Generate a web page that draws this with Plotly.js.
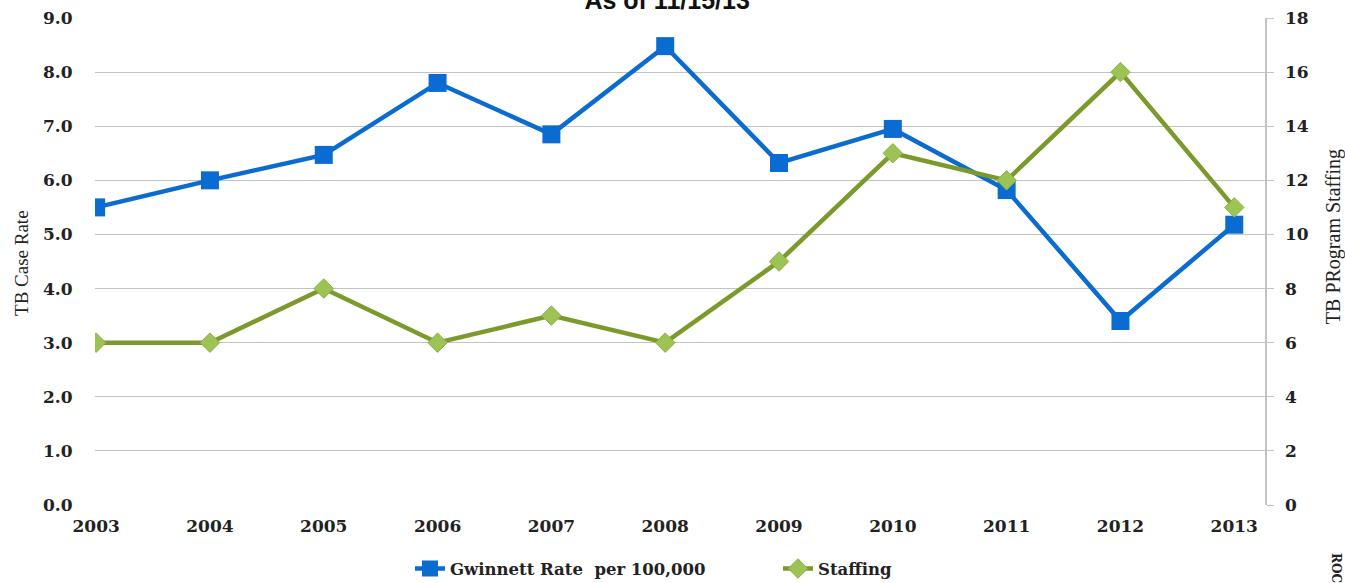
<!DOCTYPE html>
<html>
<head>
<meta charset="utf-8">
<script src="https://cdn.plot.ly/plotly-3.0.1.min.js"></script>
<style>html,body{margin:0;padding:0;background:#fff;}#chart{width:1345px;height:583px;}</style>
</head>
<body>
<div id="chart"></div>
<script>
var years = [2003, 2004, 2005, 2006, 2007, 2008, 2009, 2010, 2011, 2012, 2013];
var gwinnettRate = [5.5, 6.0, 6.47, 7.8, 6.85, 8.48, 6.32, 6.95, 5.82, 3.4, 5.18];
var staffing = [6, 6, 8, 6, 7, 6, 9, 13, 12, 16, 11];
var leftTicks = [0, 1, 2, 3, 4, 5, 6, 7, 8, 9];
var rightTicks = [0, 2, 4, 6, 8, 10, 12, 14, 16, 18];

var tickFont = {family: 'DejaVu Serif', size: 17, color: '#222', weight: 'bold'};

var traces = [
  {
    x: years, y: gwinnettRate, name: 'Gwinnett Rate  per 100,000', type: 'scatter', mode: 'lines+markers',
    line: {color: '#0a6bd0', width: 4.5},
    marker: {symbol: 'square', size: 18, color: '#0a6bd0'},
    yaxis: 'y'
  },
  {
    x: years, y: staffing, name: 'Staffing', type: 'scatter', mode: 'lines+markers',
    line: {color: '#7c9a2c', width: 4.5},
    marker: {symbol: 'diamond', size: 15, color: '#9cc455', line: {color: '#8db145', width: 1}},
    yaxis: 'y2'
  }
];

var layout = {
  width: 1345, height: 583,
  margin: {l: 95, r: 80, t: 18, b: 78, autoexpand: false},
  paper_bgcolor: '#fff', plot_bgcolor: '#fff',
  showlegend: true,
  title: {text: 'As of 11/15/13', x: 0.496, xref: 'container', y: 1.0, yref: 'container', yanchor: 'middle',
          font: {family: 'Liberation Sans', size: 25, color: '#111', weight: 'bold'}},
  xaxis: {
    range: [2002.99, 2013.27], tickmode: 'array', tickvals: years, ticktext: years.map(String),
    showgrid: false, zeroline: false, showline: false,
    ticks: 'outside', ticklen: 6, tickcolor: 'rgba(0,0,0,0)',
    tickfont: tickFont
  },
  yaxis: {
    range: [0, 9], tickmode: 'array', tickvals: leftTicks, ticktext: leftTicks.map(function(v){return v.toFixed(1);}),
    showgrid: true, gridcolor: '#c3c3c3', gridwidth: 1.2, zeroline: false, showline: false,
    ticks: 'outside', ticklen: 18, tickcolor: 'rgba(0,0,0,0)',
    tickfont: tickFont
  },
  yaxis2: {
    range: [0, 18], overlaying: 'y', side: 'right', tickmode: 'array', tickvals: rightTicks,
    ticktext: rightTicks.map(String),
    showgrid: false, zeroline: false, showline: true, linecolor: '#c3c3c3', linewidth: 1.5,
    ticks: 'outside', ticklen: 7, tickcolor: '#c3c3c3', ticklabelstandoff: 8,
    tickfont: tickFont
  },
  legend: {
    orientation: 'h', x: 0.2692, xanchor: 'left', y: -0.131, yanchor: 'middle', yref: 'paper',
    font: {family: 'DejaVu Serif', size: 16.5, color: '#222', weight: 'bold'},
    entrywidth: 323, entrywidthmode: 'pixels', tracegroupgap: 0, bgcolor: 'rgba(0,0,0,0)'
  },
  annotations: [
    {text: 'TB Case Rate', xref: 'paper', yref: 'paper', x: (22 - 95) / 1170, y: 0.497,
     xanchor: 'center', yanchor: 'middle', textangle: -90, showarrow: false,
     font: {family: 'Liberation Serif', size: 19, color: '#222'}},
    {text: 'TB PRogram Staffing', xref: 'paper', yref: 'paper', x: (1333 - 95) / 1170, y: 0.55,
     xanchor: 'center', yanchor: 'middle', textangle: -90, showarrow: false,
     font: {family: 'Liberation Serif', size: 20, color: '#222'}},
    {text: 'ROC', xref: 'paper', yref: 'paper', x: (1336 - 95) / 1170, y: (505 - 568) / 487, xanchor: 'center', yanchor: 'middle',
     textangle: 90, showarrow: false, font: {family: 'DejaVu Serif', size: 12, color: '#222', weight: 'bold'}}
  ]
};

Plotly.newPlot('chart', traces, layout, {displayModeBar: false, staticPlot: true});
</script>
</body>
</html>
